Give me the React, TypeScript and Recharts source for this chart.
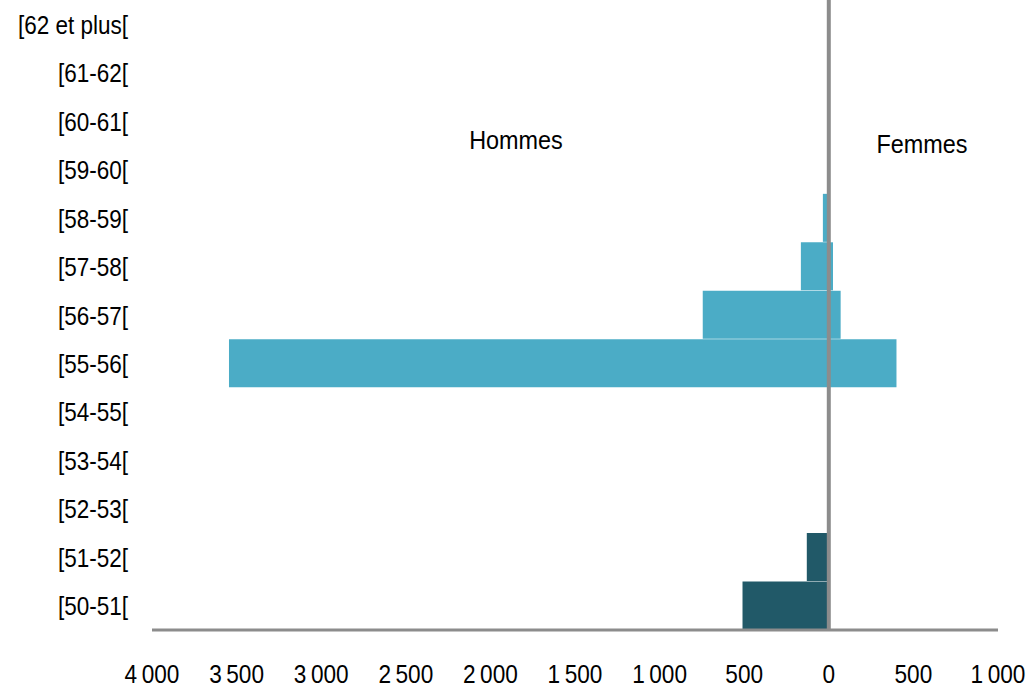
import React from "react";
import { BarChart, Bar, XAxis, YAxis, ReferenceLine, Cell } from "recharts";

const categories = [
  "[62 et plus[",
  "[61-62[",
  "[60-61[",
  "[59-60[",
  "[58-59[",
  "[57-58[",
  "[56-57[",
  "[55-56[",
  "[54-55[",
  "[53-54[",
  "[52-53[",
  "[51-52[",
  "[50-51[",
];

const hommes = [0, 0, 0, 0, 35, 165, 745, 3545, 0, 0, 0, 130, 510];
const femmes = [0, 0, 0, 0, 0, 25, 70, 400, 0, 0, 0, 0, 0];

// the two lowest age groups are drawn darker
const darkGroups = ["[51-52[", "[50-51["];

const xTicks = [-4000, -3500, -3000, -2500, -2000, -1500, -1000, -500, 0, 500, 1000];

const data = categories.map((age, i) => ({
  age,
  hommes: -hommes[i],
  femmes: femmes[i],
}));

const LIGHT = "#4BACC6";
const DARK = "#215968";
const FONT = "'Liberation Sans', Arial, sans-serif";
// no narrow font installed, squeeze Liberation Sans instead

const fmt = (v: number) => {
  const a = Math.abs(v);
  return a >= 1000 ? `${Math.floor(a / 1000)}\u2009${String(a % 1000).padStart(3, "0")}` : String(a);
};

const XTick = (props: any) => {
  const { x, y, payload } = props;
  return (
    <g transform={`translate(${x},${y}) scale(0.87,1)`}>
      <text textAnchor="middle" dy="0.72em" fontSize={26} fontFamily={FONT} fill="#000">
        {fmt(payload.value)}
      </text>
    </g>
  );
};

const YTick = (props: any) => {
  const { x, y, payload } = props;
  return (
    <g transform={`translate(${x},${y}) scale(0.9,1)`}>
      <text textAnchor="end" dy="0.38em" fontSize={25} fontFamily={FONT} fill="#000">
        {payload.value}
      </text>
    </g>
  );
};

const labelStyle: React.CSSProperties = {
  position: "absolute",
  transform: "translate(-50%,-50%) scale(0.9,1)",
  fontSize: 26,
  fontFamily: FONT,
  whiteSpace: "nowrap",
};

export default function App() {
  return (
    <div style={{ position: "relative", width: 1031, height: 689, fontFamily: FONT }}>
      <style>{`body{margin:0}`}</style>
      <BarChart
        width={1031}
        height={689}
        data={data}
        layout="vertical"
        stackOffset="sign"
        barCategoryGap={0}
        margin={{ top: 0, right: 33, bottom: 0, left: 0 }}
      >
        <XAxis
          type="number"
          domain={[-4000, 1000]}
          ticks={xTicks}
          height={59}
          tickLine={false}
          tickSize={0}
          tickMargin={34}
          axisLine={{ stroke: "#8c8c8c", strokeWidth: 3 }}
          tick={<XTick />}
          interval={0}
        />
        <YAxis
          type="category"
          dataKey="age"
          width={152}
          axisLine={false}
          tickLine={false}
          tickSize={0}
          tickMargin={24}
          interval={0}
          tick={<YTick />}
        />
        <Bar dataKey="hommes" stackId="a" isAnimationActive={false}>
          {data.map((d) => (
            <Cell key={d.age} fill={darkGroups.includes(d.age) ? DARK : LIGHT} />
          ))}
        </Bar>
        <Bar dataKey="femmes" stackId="a" isAnimationActive={false}>
          {data.map((d) => (
            <Cell key={d.age} fill={darkGroups.includes(d.age) ? DARK : LIGHT} />
          ))}
        </Bar>
        <ReferenceLine x={0} stroke="#8c8c8c" strokeWidth={4} />
      </BarChart>
      <div style={{ ...labelStyle, left: 516, top: 140 }}>Hommes</div>
      <div style={{ ...labelStyle, left: 922, top: 144 }}>Femmes</div>
    </div>
  );
}
